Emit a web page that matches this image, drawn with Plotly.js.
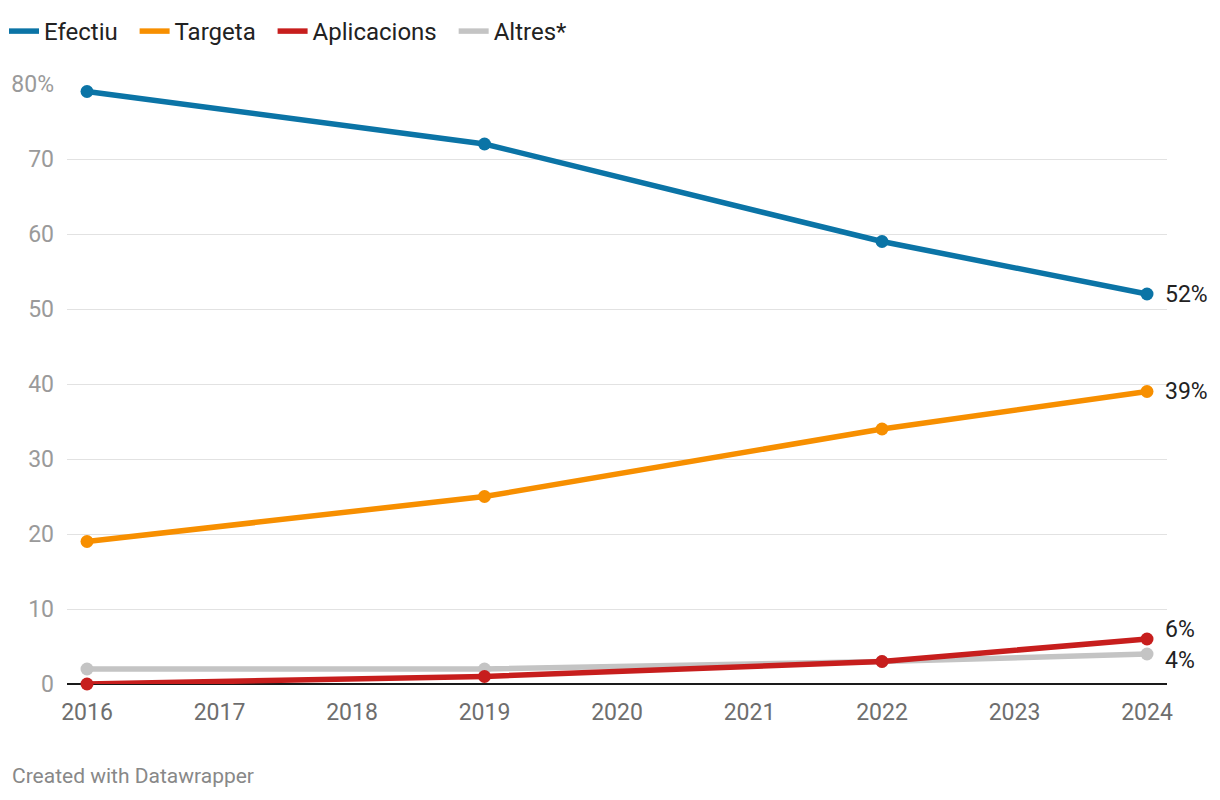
<!DOCTYPE html>
<html><head><meta charset="utf-8">
<script src="https://cdn.plot.ly/plotly-3.0.1.min.js"></script>
<style>body{margin:0;background:#fff}#c{width:1220px;height:800px}</style>
</head><body><div id="c"></div>
<script>
const years = [2016, 2019, 2022, 2024];
const efectiu = [79, 72, 59, 52];
const targeta = [19, 25, 34, 39];
const aplicacions = [0, 1, 3, 6];
const altres = [2, 2, 3, 4];
const seriesNames = ['Efectiu', 'Targeta', 'Aplicacions', 'Altres*'];
const yTicks = [0, 10, 20, 30, 40, 50, 60, 70, 80];
const yTickText = ['0', '10', '20', '30', '40', '50', '60', '70', '80%'];
const xTicks = [2016, 2017, 2018, 2019, 2020, 2021, 2022, 2023, 2024];

const colors = ['#0b74a6', '#f78f00', '#c71e1d', '#c4c4c4'];
const data = [efectiu, targeta, aplicacions, altres];
const order = [0, 1, 3, 2];
const traces = [];
order.forEach(i => {
  traces.push({
    x: years, y: data[i], name: seriesNames[i] + '\u00a0\u00a0', type: 'scatter', mode: 'lines',
    line: {color: colors[i], width: 5.5}, legendgroup: 'g' + i,
    cliponaxis: false, legendrank: i + 1, hoverinfo: 'skip'
  });
  traces.push({
    x: years, y: data[i], name: seriesNames[i], type: 'scatter', mode: 'markers',
    marker: {color: colors[i], size: 13}, legendgroup: 'g' + i, showlegend: false,
    cliponaxis: false, hoverinfo: 'skip'
  });
});

const endShift = [0, 0, 10, -6];
const annotations = [0, 1, 2, 3].map(i => ({
  x: years[years.length - 1], y: data[i][data[i].length - 1], xref: 'x', yref: 'y',
  text: data[i][data[i].length - 1] + '%', showarrow: false, xanchor: 'left',
  xshift: 16, yshift: endShift[i], font: {family: 'Roboto', size: 23, color: '#222'}
}));
annotations.push({
  x: (10 - 67) / 1100, y: (684 - 776) / 600, xref: 'paper', yref: 'paper',
  text: 'Created with Datawrapper', showarrow: false,
  xanchor: 'left', yanchor: 'middle', font: {family: 'Roboto', size: 21, color: '#888'}
});

const layout = {
  width: 1220, height: 800,
  margin: {l: 67, r: 53, t: 84, b: 116, autoexpand: false},
  paper_bgcolor: '#fff', plot_bgcolor: '#fff',
  font: {family: 'Roboto', size: 20, color: '#222'},
  showlegend: true,
  legend: {orientation: 'h', xref: 'container', yref: 'container', x: 4 / 1220, y: 1 - 9 / 800,
    xanchor: 'left', yanchor: 'top',
    font: {family: 'Roboto', size: 24, color: '#222'}, itemwidth: 30, tracegroupgap: 0},
  xaxis: {range: [2016 - 20 / 132.5, 2024 + 20 / 132.5], tickvals: xTicks, ticktext: xTicks.map(String),
    showgrid: false, zeroline: false, showline: false, ticks: '', ticklabelstandoff: 12, automargin: false,
    tickfont: {family: 'Roboto', size: 23, color: '#6e6e6e'}, fixedrange: true},
  yaxis: {range: [0, 80], tickvals: yTicks, ticktext: yTickText, showgrid: true, gridcolor: '#e2e2e2', gridwidth: 1,
    zeroline: true, zerolinecolor: '#1a1a1a', zerolinewidth: 2, showline: false, ticks: '', ticklabelstandoff: 12,
    automargin: false,
    tickfont: {family: 'Roboto', size: 23, color: '#9a9a9a'}, fixedrange: true},
  annotations: annotations
};
Plotly.newPlot('c', traces, layout, {displayModeBar: false, staticPlot: true});
</script></body></html>
